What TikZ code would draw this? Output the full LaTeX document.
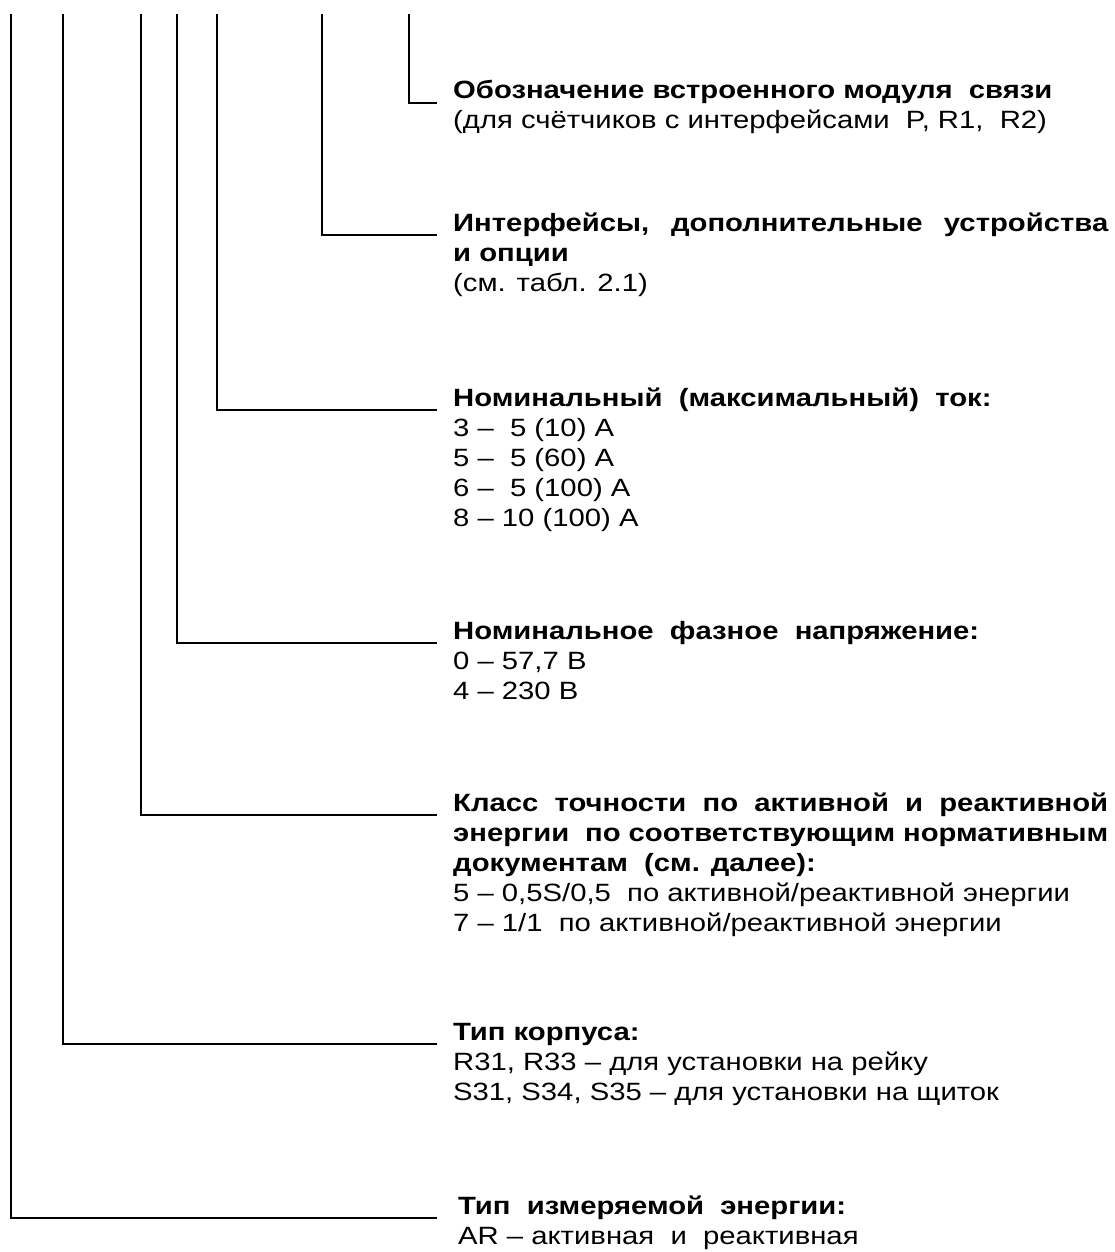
\documentclass[tikz,border=0pt]{standalone}
\usepackage{fontspec}
\setmainfont{Liberation Sans}[FakeStretch=1.17]
\usetikzlibrary{positioning}

\tikzset{
  lead/.style={line width=1.6pt},
  lbl/.style={inner sep=0pt, align=left, font=\fontsize{25}{30}\selectfont},
}

\begin{document}
\begin{tikzpicture}[x=1pt,y=-1pt]
            \useasboundingbox (0,0) rectangle (1115,1252);
            \coordinate (t1) at (409,14);
            \coordinate (t2) at (322,14);
            \coordinate (t3) at (217,14);
            \coordinate (t4) at (177,14);
            \coordinate (t5) at (141,14);
            \coordinate (t6) at (63,14);
            \coordinate (t7) at (11,14);
            \coordinate (e1) at (437,103);
            \coordinate (e2) at (437,235);
            \coordinate (e3) at (437,410);
            \coordinate (e4) at (437,643);
            \coordinate (e5) at (437,815);
            \coordinate (e6) at (437,1044);
            \coordinate (e7) at (437,1218);
            \foreach \i in {1,...,7}
                \draw[lead] (t\i) |- (e\i);
            % base of a node is its last line: shift down by the lines below
            \node[lbl, right=16pt of e1, anchor=base west, yshift=-26pt] (h1)
                {\textbf{Обозначение встроенного модуля~ связи}\\
                 (для счётчиков с интерфейсами~ P, R1,~ R2)};
            \node[lbl, right=16pt of e2, anchor=base west, yshift=-56pt] (h2)
                {\textbf{\makebox[655pt][s]{Интерфейсы,~ дополнительные~ устройства}}\\
                 \textbf{и опции}\\
                 (см. табл. 2.1)};
            \node[lbl, right=16pt of e3, anchor=base west, yshift=-116pt] (h3)
                {\textbf{Номинальный~ (максимальный)~ ток:}\\
                 3 –~ 5 (10) A\\
                 5 –~ 5 (60) A\\
                 6 –~ 5 (100) A\\
                 8 – 10 (100) A};
            \node[lbl, right=16pt of e4, anchor=base west, yshift=-56pt] (h4)
                {\textbf{Номинальное~ фазное~ напряжение:}\\
                 0 – 57,7 В\\
                 4 – 230 В};
            \node[lbl, right=16pt of e5, anchor=base west, yshift=-116pt] (h5)
                {\textbf{\makebox[655pt][s]{Класс точности по активной и реактивной}}\\
                 \textbf{\makebox[655pt][s]{энергии~ по соответствующим нормативным}}\\
                 \textbf{документам~ (см. далее):}\\
                 5 – 0,5S/0,5~ по активной/реактивной энергии\\
                 7 – 1/1~ по активной/реактивной энергии};
            \node[lbl, right=16pt of e6, anchor=base west, yshift=-56pt] (h6)
                {\textbf{Тип корпуса:}\\
                 R31, R33 – для установки на рейку\\
                 S31, S34, S35 – для установки на щиток};
            \node[lbl, right=21pt of e7, anchor=base west, yshift=-26pt] (h7)
                {\textbf{Тип~ измеряемой~ энергии:}\\
                 AR – активная~ и~ реактивная};
        \end{tikzpicture}
\end{document}
